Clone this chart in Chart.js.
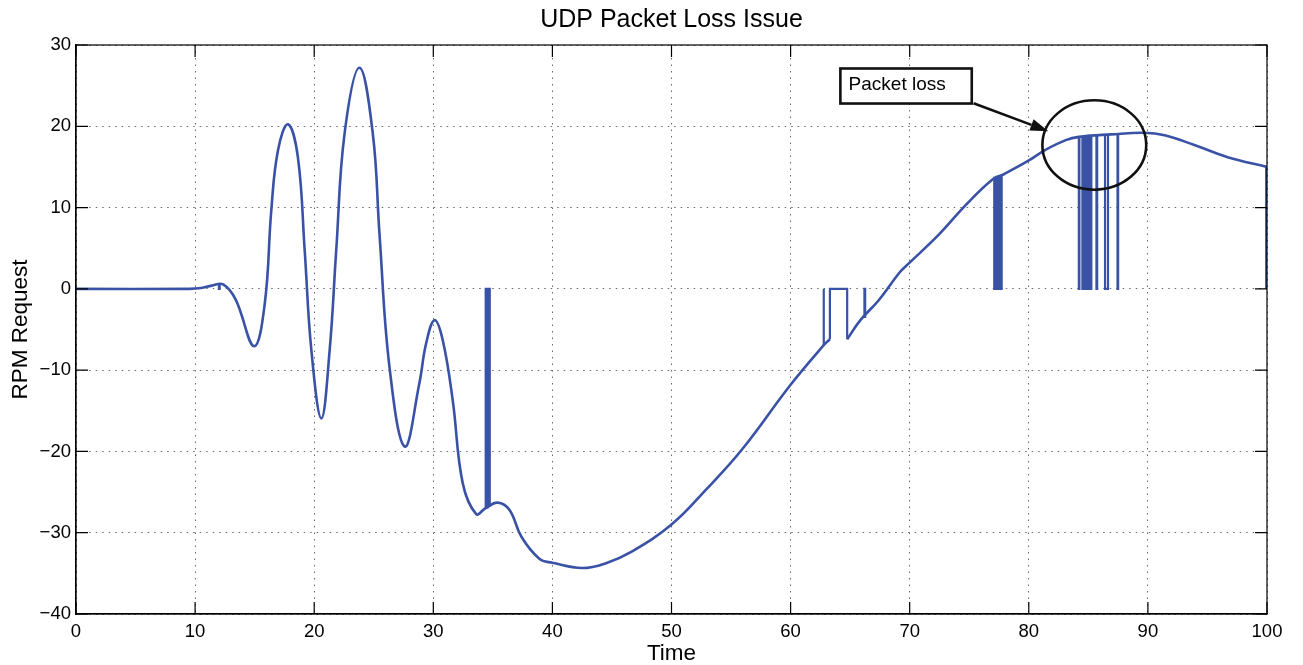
<!DOCTYPE html>
<html>
<head>
<meta charset="utf-8">
<title>UDP Packet Loss Issue</title>
<script src="https://cdn.jsdelivr.net/npm/chart.js@4.4.1/dist/chart.umd.min.js"></script>
<style>
  html, body { margin: 0; padding: 0; background: #fff; }
  #wrap { width: 1303px; height: 665px; position: relative; }
</style>
</head>
<body>
<div id="wrap"><canvas id="chart"></canvas></div>
<script>
// RPM request curve (null = hidden by the long dropout)
const curveX = [0, 9.5, 10.5, 11.4, 12.35, 13.4, 14.95, 15.85, 16.4, 16.96, 17.8, 18.63, 19.2, 19.76,
  20.6, 21.3, 21.85, 22.55, 23.8, 24.92, 25.48, 26.32, 27.6, 28.83, 29.4, 30.1, 30.79, 31.63, 32.47,
  33.6, 34.37, 35.4, 36.4, 37.4, 38.9, 40, 42.5, 44.5, 46.7, 50, 52.9, 55.9, 60, 62.8, 63.3,
  64, 64.75, 65.86, 67.4, 69.2, 69.9, 72.4, 74.7, 76.9, 77.9, 79.9, 81.4, 83.1, 84.2, 86.9, 89.7,
  91.4, 93.9, 96.7, 100];
const curveY = [0, 0, 0.1, 0.4, 0.55, -1.3, -7.05, -1.8, 9.7, 17.06, 20.25, 16.2, 4.76, -7.5,
  -15.94, -7.5, 4.76, 19.1, 27.2, 19.1, 6.8, -9.6, -19.4, -11.6, -6.7, -3.85, -6.3, -13.7, -23.9,
  -27.7, -27.0, -26.3, -27.2, -30.5, -33.2, -33.7, -34.35, -33.75, -32.3, -29.0, -24.7, -19.8, -11.8, -6.9, -6.2,
  null, -6.2, -3.85, -1.4, 2.1, 3.1, 6.6, 10.3, 13.4, 14.1, 15.7, 17.1, 18.3, 18.7, 19.0, 19.2,
  18.9, 17.7, 16.2, 15.0];

// packet losses: the request drops to 0 between start and end
const lossStart = [12.0, 34.40, 34.52, 34.64, 62.75, 63.3, 66.2, 77.1, 77.28, 77.46, 77.64,
  84.2, 84.5, 84.68, 84.86, 85.04, 85.18, 85.68, 86.4, 87.45, 99.93];
const lossEnd = [12.06, 34.46, 34.58, 34.74, 62.8, 64.75, 66.26, 77.18, 77.36, 77.54, 77.72,
  84.25, 84.58, 84.76, 84.94, 85.12, 85.25, 85.74, 86.65, 87.5, 99.93];
const lossLevel = [0.5, -27.0, -26.9, -26.8, -6.9, -6.2, -3.6, 13.8, 13.9, 13.95, 14.0,
  18.7, 18.75, 18.8, 18.8, 18.85, 18.85, 18.9, 19.0, 19.05, 15.0];

const xTicks = [0, 10, 20, 30, 40, 50, 60, 70, 80, 90, 100];
const yTicks = [30, 20, 10, 0, -10, -20, -30, -40];

const lineColor = '#3952a5';
const fontFamily = '"Liberation Sans", Arial, Helvetica, sans-serif';
const titleText = 'UDP Packet Loss Issue';

const curveData = curveX.map((x, i) => ({ x: x, y: curveY[i] }));
const lossData = [];
lossStart.forEach((s, i) => {
  lossData.push({ x: s, y: lossLevel[i] });
  lossData.push({ x: s, y: 0 });
  lossData.push({ x: lossEnd[i], y: 0 });
  lossData.push({ x: lossEnd[i], y: lossLevel[i] });
  lossData.push({ x: lossEnd[i], y: null });
});

// callout drawn in data units
const note = {
  text: 'Packet loss',
  box: { x1: 64.18, x2: 75.21, y1: 27.11, y2: 22.8 },
  textAt: { x: 64.87, y: 24.44 },
  arrowFrom: { x: 75.36, y: 22.84 },
  arrowTo: { x: 81.64, y: 19.4 },
  ellipse: { x: 85.5, y: 17.7, rx: 4.36, ry: 5.5 }
};

// box round the plot, inward ticks and the title centred over the plot
const framePlugin = {
  id: 'frame',
  afterDraw(chart) {
    const { ctx, chartArea: a, scales } = chart;
    const tick = 12;
    ctx.save();
    ctx.strokeStyle = '#000';
    ctx.lineWidth = 1.2;
    ctx.beginPath();
    xTicks.forEach(v => {
      const px = scales.x.getPixelForValue(v);
      ctx.moveTo(px, a.bottom); ctx.lineTo(px, a.bottom - tick);
      ctx.moveTo(px, a.top); ctx.lineTo(px, a.top + tick);
    });
    yTicks.forEach(v => {
      const py = scales.y.getPixelForValue(v);
      ctx.moveTo(a.left, py); ctx.lineTo(a.left + tick, py);
      ctx.moveTo(a.right, py); ctx.lineTo(a.right - tick, py);
    });
    ctx.stroke();
    ctx.strokeRect(a.left, a.top, a.right - a.left, a.bottom - a.top);

    ctx.fillStyle = '#000';
    ctx.font = '25px ' + fontFamily;
    ctx.textAlign = 'center';
    ctx.textBaseline = 'middle';
    ctx.fillText(titleText, (a.left + a.right) / 2, 20);
    ctx.restore();
  }
};

const notePlugin = {
  id: 'note',
  afterDatasetsDraw(chart) {
    const { ctx, scales: { x, y } } = chart;
    const px = v => x.getPixelForValue(v);
    const py = v => y.getPixelForValue(v);
    ctx.save();
    ctx.strokeStyle = '#111';
    ctx.fillStyle = '#111';
    ctx.lineWidth = 2.6;

    // ellipse round the losses
    const e = note.ellipse;
    ctx.beginPath();
    ctx.ellipse(px(e.x), py(e.y), px(e.x + e.rx) - px(e.x), py(e.y) - py(e.y + e.ry), 0, 0, Math.PI * 2);
    ctx.stroke();

    // arrow
    const ax1 = px(note.arrowFrom.x), ay1 = py(note.arrowFrom.y);
    const ax2 = px(note.arrowTo.x), ay2 = py(note.arrowTo.y);
    const ang = Math.atan2(ay2 - ay1, ax2 - ax1);
    const head = 18, half = 6;
    ctx.beginPath();
    ctx.moveTo(ax1, ay1);
    ctx.lineTo(ax2 - head * Math.cos(ang), ay2 - head * Math.sin(ang));
    ctx.stroke();
    ctx.beginPath();
    ctx.moveTo(ax2, ay2);
    ctx.lineTo(ax2 - head * Math.cos(ang) + half * Math.sin(ang), ay2 - head * Math.sin(ang) - half * Math.cos(ang));
    ctx.lineTo(ax2 - head * Math.cos(ang) - half * Math.sin(ang), ay2 - head * Math.sin(ang) + half * Math.cos(ang));
    ctx.closePath();
    ctx.fill();

    // text box
    const b = note.box;
    ctx.fillStyle = '#fff';
    ctx.fillRect(px(b.x1), py(b.y1), px(b.x2) - px(b.x1), py(b.y2) - py(b.y1));
    ctx.strokeRect(px(b.x1), py(b.y1), px(b.x2) - px(b.x1), py(b.y2) - py(b.y1));
    ctx.fillStyle = '#000';
    ctx.font = '19px ' + fontFamily;
    ctx.textBaseline = 'alphabetic';
    ctx.fillText(note.text, px(note.textAt.x), py(note.textAt.y));
    ctx.restore();
  }
};

const minus = v => String(v).replace('-', '\u2212');

new Chart(document.getElementById('chart').getContext('2d'), {
  type: 'line',
  data: {
    datasets: [
      {
        label: 'RPM Request',
        data: curveData,
        borderColor: lineColor,
        borderWidth: 2.6,
        pointRadius: 0,
        tension: 0.4,
        spanGaps: false,
        fill: false
      },
      {
        label: 'Packet loss',
        data: lossData,
        borderColor: lineColor,
        borderWidth: 2.2,
        pointRadius: 0,
        tension: 0,
        spanGaps: false,
        fill: false
      }
    ]
  },
  options: {
    responsive: true,
    maintainAspectRatio: false,
    animation: false,
    layout: { padding: { left: 0, right: 36, top: 45, bottom: 0 } },
    plugins: {
      legend: { display: false },
      tooltip: { enabled: false },
      title: { display: false }
    },
    scales: {
      x: {
        type: 'linear',
        min: 0,
        max: 100,
        afterFit(scale) { scale.height = 51; },
        afterBuildTicks(scale) { scale.ticks = xTicks.map(v => ({ value: v })); },
        ticks: {
          color: '#000',
          padding: 7,
          maxRotation: 0,
          font: { family: fontFamily, size: 18.5 },
          callback: v => minus(v)
        },
        grid: { color: '#6a6a6a', lineWidth: 1, drawTicks: false },
        border: { display: true, color: '#000', width: 1.2, dash: [1.5, 5] },
        title: {
          display: true,
          text: 'Time',
          color: '#000',
          font: { family: fontFamily, size: 22.5 },
          padding: { top: 0, bottom: -2 }
        }
      },
      y: {
        min: -40,
        max: 30,
        afterFit(scale) { scale.width = 76; },
        afterBuildTicks(scale) { scale.ticks = yTicks.slice().reverse().map(v => ({ value: v })); },
        ticks: {
          color: '#000',
          padding: 5,
          font: { family: fontFamily, size: 18.5 },
          callback: v => minus(v)
        },
        grid: { color: '#6a6a6a', lineWidth: 1, drawTicks: false },
        border: { display: true, color: '#000', width: 1.2, dash: [1.5, 5] },
        title: {
          display: true,
          text: 'RPM Request',
          color: '#000',
          font: { family: fontFamily, size: 22.5 },
          padding: { top: 7, bottom: 0 }
        }
      }
    }
  },
  plugins: [notePlugin, framePlugin]
});
</script>
</body>
</html>
